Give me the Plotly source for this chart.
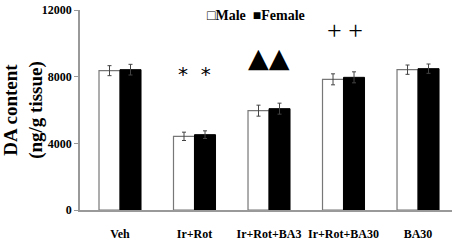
import plotly.graph_objects as go

categories = ["Veh", "Ir+Rot", "Ir+Rot+BA3", "Ir+Rot+BA30", "BA30"]
male = [8360, 4420, 5960, 7840, 8420]
female = [8420, 4520, 6080, 7960, 8480]
male_err = [300, 250, 330, 330, 280]
female_err = [320, 230, 330, 330, 280]
y_ticks = [0, 4000, 8000, 12000]
y_tick_labels = ["0", "4000", "8000", "12000"]
legend_text = "□Male  ■Female"

serif = "Liberation Serif, Times New Roman, serif"

fig = go.Figure()
fig.add_trace(go.Bar(
    x=categories, y=male, name="Male",
    marker=dict(color="white", line=dict(color="#777777", width=1.2)),
    error_y=dict(type="data", array=male_err, color="#444444", thickness=1, width=2),
))
fig.add_trace(go.Bar(
    x=categories, y=female, name="Female",
    marker=dict(color="black", line=dict(color="black", width=1)),
    error_y=dict(type="data", array=female_err, color="#444444", thickness=1, width=2),
))

fig.update_layout(
    width=459, height=244,
    margin=dict(l=80, r=7, t=10, b=34, autoexpand=False),
    paper_bgcolor="white", plot_bgcolor="white",
    barmode="group", bargap=0.436, bargroupgap=0,
    font=dict(family=serif, color="black"),
    showlegend=False,
    xaxis=dict(range=[-0.537, 4.456], showline=True, linecolor="#999999", linewidth=1.5,
               ticks="",
               tickfont=dict(family=serif, size=12, color="black", weight="bold"),
               ticklabelstandoff=12, automargin=False),
    yaxis=dict(range=[0, 12000], tickvals=y_ticks, ticktext=y_tick_labels,
               showline=True, linecolor="#999999",
               linewidth=1.5, ticks="outside", ticklen=4, tickcolor="#999999",
               showgrid=False, zeroline=False, automargin=False,
               tickfont=dict(family=serif, size=12, color="black", weight="bold"),
               title=dict(text="DA content<br>(ng/g tissue)",
                          font=dict(family=serif, size=19, color="black", weight="bold"),
                          standoff=4)),
)

# legend drawn as text (matches reference's compact □/■ legend)
fig.add_annotation(x=0.335, y=0.975, xref="paper", yref="paper", xanchor="left", yanchor="middle",
                   text="<b>" + legend_text + "</b>", showarrow=False,
                   font=dict(family=serif, size=14, color="black"))

fig.add_annotation(x="Ir+Rot", y=8200, text="*  *", showarrow=False, xref="x", yref="y",
                   yshift=-1,
                   font=dict(family="DejaVu Sans", size=20, color="black"))
fig.add_annotation(x="Ir+Rot+BA3", y=9150, text="▲▲", showarrow=False, xref="x", yref="y",
                   font=dict(family="DejaVu Sans", size=27, color="black"))
fig.add_annotation(x="Ir+Rot+BA30", y=10800, text="+ +", showarrow=False, xref="x", yref="y",
                   xshift=1,
                   font=dict(family=serif, size=26, color="black"))

fig.write_html("out.html", config={"displayModeBar": False},
               post_script="document.body.style.margin='0';document.body.style.padding='0';")
